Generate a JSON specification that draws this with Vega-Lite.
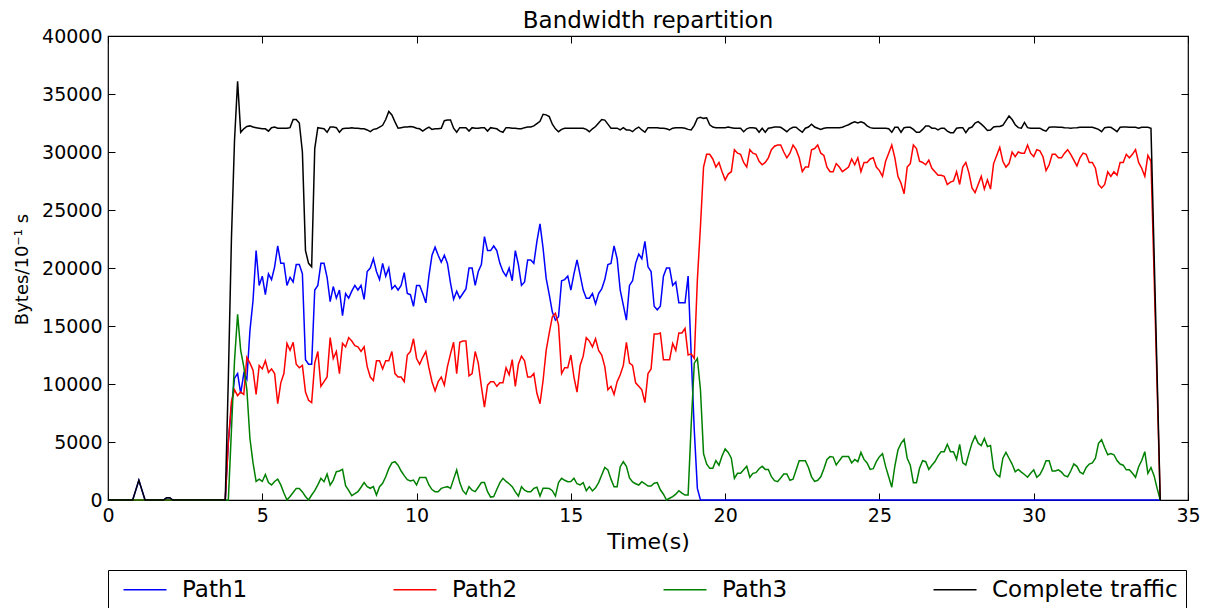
{
"$schema": "https://vega.github.io/schema/vega-lite/v6.json",
"width": 1080, "height": 464,
"autosize": {"type": "none"},
"padding": {"left": 108, "top": 36, "right": 22, "bottom": 108},
"title": {"text": "Bandwidth repartition", "fontSize": 23, "font": "DejaVu Sans", "fontWeight": "normal", "color": "black", "offset": 7, "dy": 31, "baseline": "alphabetic", "anchor": "middle"},
"config": {
  "font": "DejaVu Sans",
  "view": {"stroke": "black", "strokeWidth": 1.2},
  "axis": {"grid": false, "domain": false, "tickColor": "black", "labelColor": "black", "titleColor": "black", "labelFont": "DejaVu Sans", "titleFont": "DejaVu Sans", "labelFontSize": 19, "titleFontSize": 22, "titleFontWeight": "normal", "tickSize": -7, "tickWidth": 1, "labelPadding": 13, "labelFlush": false, "labelOverlap": false}
},
"data": {"values": [
{"t":0,"p1":0,"p2":0,"p3":0,"all":0},
{"t":0.8,"p1":0,"p2":0,"p3":0,"all":0},
{"t":0.9,"p1":850,"p2":0,"p3":0,"all":850},
{"t":1.0,"p1":1700,"p2":0,"p3":0,"all":1700},
{"t":1.1,"p1":850,"p2":0,"p3":0,"all":850},
{"t":1.2,"p1":0,"p2":0,"p3":0,"all":0},
{"t":1.8,"p1":0,"p2":0,"p3":0,"all":0},
{"t":1.9,"p1":200,"p2":0,"p3":0,"all":200},
{"t":2.0,"p1":200,"p2":0,"p3":0,"all":200},
{"t":2.1,"p1":0,"p2":0,"p3":0,"all":0},
{"t":3.8,"p1":0,"p2":0,"p3":0,"all":0},
{"t":3.9,"p1":5000,"p2":5000,"p3":0,"all":10500},
{"t":4.0,"p1":8000,"p2":8500,"p3":6000,"all":22500},
{"t":4.1,"p1":10500,"p2":9500,"p3":12000,"all":31000},
{"t":4.2,"p1":10900,"p2":9000,"p3":16000,"all":36100},
{"t":4.3,"p1":9200,"p2":9300,"p3":12900,"all":31700},
{"t":4.4,"p1":10900,"p2":9100,"p3":11500,"all":32000},
{"t":4.5,"p1":10400,"p2":12300,"p3":9500,"all":32200},
{"t":4.6,"p1":14600,"p2":11800,"p3":5300,"all":32250},
{"t":4.7,"p1":17200,"p2":11200,"p3":3200,"all":32150},
{"t":4.8,"p1":21500,"p2":9100,"p3":1600,"all":32100},
{"t":4.9,"p1":18500,"p2":11600,"p3":1800,"all":32050},
{"t":5.0,"p1":19300,"p2":11300,"p3":1600,"all":32000},
{"t":5.1,"p1":17700,"p2":12000,"p3":2200,"all":32000},
{"t":5.2,"p1":19500,"p2":11000,"p3":1500,"all":31800},
{"t":5.3,"p1":19000,"p2":11300,"p3":1300,"all":32100},
{"t":5.4,"p1":20100,"p2":10900,"p3":1600,"all":32150},
{"t":5.5,"p1":21900,"p2":8300,"p3":1800,"all":32050},
{"t":5.6,"p1":20400,"p2":10100,"p3":1300,"all":32050},
{"t":5.7,"p1":20400,"p2":10900,"p3":600,"all":32050},
{"t":5.8,"p1":18500,"p2":13500,"p3":0,"all":32050},
{"t":5.9,"p1":19200,"p2":12900,"p3":300,"all":32100},
{"t":6.0,"p1":18800,"p2":13600,"p3":650,"all":32800},
{"t":6.1,"p1":20300,"p2":11700,"p3":1000,"all":32800},
{"t":6.2,"p1":20300,"p2":11400,"p3":1000,"all":32500},
{"t":6.3,"p1":19500,"p2":11600,"p3":700,"all":30000},
{"t":6.4,"p1":12100,"p2":9300,"p3":300,"all":21500},
{"t":6.5,"p1":11700,"p2":8600,"p3":0,"all":20400},
{"t":6.6,"p1":11700,"p2":8400,"p3":430,"all":20100},
{"t":6.7,"p1":18100,"p2":11800,"p3":800,"all":30300},
{"t":6.8,"p1":18500,"p2":12800,"p3":1300,"all":32100},
{"t":6.9,"p1":20400,"p2":9800,"p3":1870,"all":32050},
{"t":7.0,"p1":20400,"p2":10200,"p3":1580,"all":32000},
{"t":7.1,"p1":19200,"p2":10600,"p3":2240,"all":31700},
{"t":7.2,"p1":17100,"p2":14000,"p3":1290,"all":32150},
{"t":7.3,"p1":18400,"p2":12200,"p3":1720,"all":32150},
{"t":7.4,"p1":17400,"p2":12800,"p3":2440,"all":32100},
{"t":7.5,"p1":18100,"p2":10900,"p3":2500,"all":31700},
{"t":7.6,"p1":15900,"p2":13500,"p3":2640,"all":32000},
{"t":7.7,"p1":17800,"p2":13200,"p3":1230,"all":32050},
{"t":7.8,"p1":17400,"p2":14000,"p3":830,"all":32050},
{"t":7.9,"p1":18000,"p2":13700,"p3":370,"all":32100},
{"t":8.0,"p1":18500,"p2":13300,"p3":540,"all":32050},
{"t":8.1,"p1":18100,"p2":13200,"p3":720,"all":32050},
{"t":8.2,"p1":18500,"p2":12800,"p3":1100,"all":32000},
{"t":8.3,"p1":17300,"p2":13200,"p3":1500,"all":32000},
{"t":8.4,"p1":19700,"p2":11500,"p3":1150,"all":31900},
{"t":8.5,"p1":20000,"p2":10600,"p3":1010,"all":31750},
{"t":8.6,"p1":20800,"p2":10300,"p3":1150,"all":31950},
{"t":8.7,"p1":19700,"p2":12000,"p3":430,"all":32000},
{"t":8.8,"p1":19000,"p2":12000,"p3":1150,"all":32150},
{"t":8.9,"p1":20400,"p2":11300,"p3":1440,"all":32300},
{"t":9.0,"p1":19300,"p2":12000,"p3":2000,"all":32800},
{"t":9.1,"p1":20000,"p2":12000,"p3":2700,"all":33500},
{"t":9.2,"p1":18200,"p2":12800,"p3":3200,"all":33200},
{"t":9.3,"p1":18500,"p2":10900,"p3":3300,"all":32600},
{"t":9.4,"p1":18100,"p2":10600,"p3":3000,"all":32050},
{"t":9.5,"p1":18500,"p2":10600,"p3":2500,"all":32100},
{"t":9.6,"p1":19600,"p2":10200,"p3":2100,"all":32150},
{"t":9.7,"p1":17800,"p2":12500,"p3":1750,"all":32150},
{"t":9.8,"p1":17700,"p2":12800,"p3":1640,"all":32200},
{"t":9.9,"p1":16700,"p2":13900,"p3":1720,"all":32150},
{"t":10.0,"p1":18500,"p2":12200,"p3":1300,"all":32050},
{"t":10.1,"p1":18500,"p2":11700,"p3":1950,"all":32000},
{"t":10.2,"p1":17800,"p2":12300,"p3":1950,"all":31800},
{"t":10.3,"p1":17000,"p2":12800,"p3":1950,"all":32000},
{"t":10.4,"p1":19300,"p2":11400,"p3":1300,"all":32150},
{"t":10.5,"p1":21100,"p2":10200,"p3":900,"all":31950},
{"t":10.6,"p1":21800,"p2":9400,"p3":720,"all":32000},
{"t":10.7,"p1":21100,"p2":10200,"p3":720,"all":32000},
{"t":10.8,"p1":20500,"p2":10600,"p3":1000,"all":32050},
{"t":10.9,"p1":21100,"p2":9900,"p3":1090,"all":32700},
{"t":11.0,"p1":20400,"p2":11500,"p3":1150,"all":32750},
{"t":11.1,"p1":18700,"p2":12600,"p3":1000,"all":32750},
{"t":11.2,"p1":17300,"p2":13600,"p3":1800,"all":32050},
{"t":11.3,"p1":18000,"p2":10900,"p3":2590,"all":31700},
{"t":11.4,"p1":17400,"p2":13600,"p3":1500,"all":32100},
{"t":11.5,"p1":17800,"p2":13700,"p3":800,"all":32100},
{"t":11.6,"p1":18200,"p2":13700,"p3":500,"all":32100},
{"t":11.7,"p1":20000,"p2":10700,"p3":1150,"all":31800},
{"t":11.8,"p1":20000,"p2":10900,"p3":850,"all":32100},
{"t":11.9,"p1":18500,"p2":12800,"p3":720,"all":32050},
{"t":12.0,"p1":19700,"p2":11800,"p3":1100,"all":32050},
{"t":12.1,"p1":20300,"p2":9800,"p3":1500,"all":32100},
{"t":12.2,"p1":22700,"p2":8000,"p3":1500,"all":32100},
{"t":12.3,"p1":21500,"p2":9900,"p3":720,"all":31800},
{"t":12.4,"p1":21500,"p2":10200,"p3":250,"all":32100},
{"t":12.5,"p1":21900,"p2":10200,"p3":300,"all":32050},
{"t":12.6,"p1":21500,"p2":9800,"p3":900,"all":32000},
{"t":12.7,"p1":20400,"p2":10100,"p3":1500,"all":31800},
{"t":12.8,"p1":19700,"p2":10100,"p3":1870,"all":31700},
{"t":12.9,"p1":19300,"p2":11400,"p3":1600,"all":32100},
{"t":13.0,"p1":20000,"p2":10800,"p3":1400,"all":32100},
{"t":13.1,"p1":18900,"p2":12100,"p3":1150,"all":32050},
{"t":13.2,"p1":21500,"p2":9800,"p3":700,"all":32050},
{"t":13.3,"p1":20300,"p2":11700,"p3":340,"all":32000},
{"t":13.4,"p1":18500,"p2":12400,"p3":1150,"all":32000},
{"t":13.5,"p1":18800,"p2":12000,"p3":850,"all":32100},
{"t":13.6,"p1":20700,"p2":10600,"p3":720,"all":32150},
{"t":13.7,"p1":20700,"p2":10600,"p3":720,"all":32150},
{"t":13.8,"p1":20400,"p2":10900,"p3":1000,"all":32250},
{"t":13.9,"p1":22300,"p2":9200,"p3":1100,"all":32450},
{"t":14.0,"p1":23800,"p2":8300,"p3":340,"all":32650},
{"t":14.1,"p1":21700,"p2":10300,"p3":1010,"all":33250},
{"t":14.2,"p1":19100,"p2":12900,"p3":1010,"all":33200},
{"t":14.3,"p1":17700,"p2":14400,"p3":1000,"all":33050},
{"t":14.4,"p1":16200,"p2":15800,"p3":800,"all":32400},
{"t":14.5,"p1":15500,"p2":16100,"p3":340,"all":32000},
{"t":14.6,"p1":15800,"p2":15100,"p3":1500,"all":31750},
{"t":14.7,"p1":18900,"p2":10900,"p3":1870,"all":31950},
{"t":14.8,"p1":19000,"p2":11400,"p3":1700,"all":32050},
{"t":14.9,"p1":19300,"p2":11400,"p3":1580,"all":32050},
{"t":15.0,"p1":18100,"p2":12500,"p3":1600,"all":32050},
{"t":15.1,"p1":19500,"p2":10600,"p3":1870,"all":32050},
{"t":15.2,"p1":20700,"p2":9300,"p3":1400,"all":32050},
{"t":15.3,"p1":19400,"p2":11600,"p3":1300,"all":32050},
{"t":15.4,"p1":18100,"p2":12400,"p3":1500,"all":32050},
{"t":15.5,"p1":17400,"p2":14000,"p3":800,"all":31950},
{"t":15.6,"p1":17400,"p2":13700,"p3":1150,"all":31750},
{"t":15.7,"p1":17800,"p2":13200,"p3":780,"all":32000},
{"t":15.8,"p1":16900,"p2":13900,"p3":1050,"all":32200},
{"t":15.9,"p1":17800,"p2":12900,"p3":1500,"all":32500},
{"t":16.0,"p1":18200,"p2":12500,"p3":2160,"all":32800},
{"t":16.1,"p1":19000,"p2":11500,"p3":2800,"all":32750},
{"t":16.2,"p1":20300,"p2":9500,"p3":2600,"all":32400},
{"t":16.3,"p1":20400,"p2":9800,"p3":1800,"all":32050},
{"t":16.4,"p1":21900,"p2":9100,"p3":1150,"all":32050},
{"t":16.5,"p1":20800,"p2":10200,"p3":1150,"all":32050},
{"t":16.6,"p1":18100,"p2":10800,"p3":2870,"all":31900},
{"t":16.7,"p1":16800,"p2":11600,"p3":3300,"all":32100},
{"t":16.8,"p1":15500,"p2":13600,"p3":2900,"all":31900},
{"t":16.9,"p1":18500,"p2":11800,"p3":1900,"all":31900},
{"t":17.0,"p1":18900,"p2":11600,"p3":1550,"all":31750},
{"t":17.1,"p1":20400,"p2":10100,"p3":1400,"all":32000},
{"t":17.2,"p1":21200,"p2":9800,"p3":1290,"all":32150},
{"t":17.3,"p1":20800,"p2":9500,"p3":1580,"all":31900},
{"t":17.4,"p1":22300,"p2":8400,"p3":1400,"all":31700},
{"t":17.5,"p1":20100,"p2":10900,"p3":1200,"all":32100},
{"t":17.6,"p1":19700,"p2":11300,"p3":1200,"all":32100},
{"t":17.7,"p1":16700,"p2":14300,"p3":1440,"all":32100},
{"t":17.8,"p1":16400,"p2":14300,"p3":1500,"all":32100},
{"t":17.9,"p1":16700,"p2":14400,"p3":880,"all":32050},
{"t":18.0,"p1":19300,"p2":12100,"p3":500,"all":32050},
{"t":18.1,"p1":20000,"p2":12100,"p3":0,"all":32000},
{"t":18.2,"p1":20000,"p2":12100,"p3":150,"all":31900},
{"t":18.3,"p1":18500,"p2":13500,"p3":290,"all":32050},
{"t":18.4,"p1":18800,"p2":12900,"p3":500,"all":32100},
{"t":18.5,"p1":17000,"p2":14400,"p3":800,"all":32100},
{"t":18.6,"p1":17000,"p2":14400,"p3":600,"all":32100},
{"t":18.7,"p1":17000,"p2":14800,"p3":430,"all":32050},
{"t":18.8,"p1":19300,"p2":12500,"p3":430,"all":31950},
{"t":18.9,"p1":12500,"p2":12600,"p3":6500,"all":31900},
{"t":19.0,"p1":6000,"p2":12200,"p3":11800,"all":32300},
{"t":19.1,"p1":1000,"p2":19000,"p3":12200,"all":32900},
{"t":19.2,"p1":0,"p2":23600,"p3":9500,"all":33000},
{"t":19.3,"p1":0,"p2":28700,"p3":4000,"all":32900},
{"t":19.4,"p1":0,"p2":29800,"p3":3100,"all":32950},
{"t":19.5,"p1":0,"p2":29800,"p3":2730,"all":32350},
{"t":19.6,"p1":0,"p2":29400,"p3":2730,"all":32150},
{"t":19.7,"p1":0,"p2":28700,"p3":3400,"all":32100},
{"t":19.8,"p1":0,"p2":29100,"p3":3000,"all":32100},
{"t":19.9,"p1":0,"p2":28300,"p3":3800,"all":32100},
{"t":20.0,"p1":0,"p2":27600,"p3":4400,"all":32100},
{"t":20.1,"p1":0,"p2":28100,"p3":4100,"all":32150},
{"t":20.2,"p1":0,"p2":28300,"p3":3600,"all":32100},
{"t":20.3,"p1":0,"p2":30200,"p3":1870,"all":32050},
{"t":20.4,"p1":0,"p2":29900,"p3":2300,"all":32050},
{"t":20.5,"p1":0,"p2":29800,"p3":2300,"all":32050},
{"t":20.6,"p1":0,"p2":29100,"p3":2600,"all":31750},
{"t":20.7,"p1":0,"p2":28700,"p3":2900,"all":32000},
{"t":20.8,"p1":0,"p2":30200,"p3":1960,"all":32100},
{"t":20.9,"p1":0,"p2":29900,"p3":2300,"all":32100},
{"t":21.0,"p1":0,"p2":29800,"p3":2360,"all":32050},
{"t":21.1,"p1":0,"p2":29200,"p3":2700,"all":31700},
{"t":21.2,"p1":0,"p2":28900,"p3":2900,"all":32050},
{"t":21.3,"p1":0,"p2":29100,"p3":2640,"all":31700},
{"t":21.4,"p1":0,"p2":29500,"p3":2640,"all":32050},
{"t":21.5,"p1":0,"p2":30200,"p3":2010,"all":32100},
{"t":21.6,"p1":0,"p2":30500,"p3":1670,"all":32150},
{"t":21.7,"p1":0,"p2":30600,"p3":1580,"all":32150},
{"t":21.8,"p1":0,"p2":30600,"p3":1900,"all":32130},
{"t":21.9,"p1":0,"p2":30000,"p3":2240,"all":31950},
{"t":22.0,"p1":0,"p2":29500,"p3":2240,"all":31750},
{"t":22.1,"p1":0,"p2":29900,"p3":1700,"all":32000},
{"t":22.2,"p1":0,"p2":30600,"p3":1800,"all":32130},
{"t":22.3,"p1":0,"p2":30200,"p3":2590,"all":32130},
{"t":22.4,"p1":0,"p2":29500,"p3":3390,"all":31900},
{"t":22.5,"p1":0,"p2":28300,"p3":3390,"all":31700},
{"t":22.6,"p1":0,"p2":28700,"p3":3390,"all":32050},
{"t":22.7,"p1":0,"p2":28700,"p3":2800,"all":32150},
{"t":22.8,"p1":0,"p2":30200,"p3":2000,"all":32400},
{"t":22.9,"p1":0,"p2":30300,"p3":1600,"all":32150},
{"t":23.0,"p1":0,"p2":30600,"p3":1700,"all":32050},
{"t":23.1,"p1":0,"p2":29900,"p3":2000,"all":31950},
{"t":23.2,"p1":0,"p2":29700,"p3":2700,"all":32050},
{"t":23.3,"p1":0,"p2":28700,"p3":3500,"all":32100},
{"t":23.4,"p1":0,"p2":28300,"p3":3740,"all":32100},
{"t":23.5,"p1":0,"p2":28300,"p3":3700,"all":32100},
{"t":23.6,"p1":0,"p2":29000,"p3":3020,"all":32100},
{"t":23.7,"p1":0,"p2":28700,"p3":3390,"all":32100},
{"t":23.8,"p1":0,"p2":28300,"p3":3740,"all":32130},
{"t":23.9,"p1":0,"p2":28500,"p3":3740,"all":32250},
{"t":24.0,"p1":0,"p2":28700,"p3":3740,"all":32350},
{"t":24.1,"p1":0,"p2":29400,"p3":3200,"all":32500},
{"t":24.2,"p1":0,"p2":28900,"p3":3500,"all":32600},
{"t":24.3,"p1":0,"p2":29500,"p3":3300,"all":32500},
{"t":24.4,"p1":0,"p2":28300,"p3":4100,"all":32600},
{"t":24.5,"p1":0,"p2":29100,"p3":3500,"all":32500},
{"t":24.6,"p1":0,"p2":29100,"p3":3200,"all":32250},
{"t":24.7,"p1":0,"p2":29400,"p3":2640,"all":32100},
{"t":24.8,"p1":0,"p2":29500,"p3":2700,"all":32050},
{"t":24.9,"p1":0,"p2":28700,"p3":3310,"all":32050},
{"t":25.0,"p1":0,"p2":28400,"p3":3740,"all":32050},
{"t":25.1,"p1":0,"p2":27900,"p3":4000,"all":32050},
{"t":25.2,"p1":0,"p2":29200,"p3":2900,"all":32050},
{"t":25.3,"p1":0,"p2":29900,"p3":2010,"all":32000},
{"t":25.4,"p1":0,"p2":30600,"p3":1100,"all":31700},
{"t":25.5,"p1":0,"p2":29500,"p3":2930,"all":32130},
{"t":25.6,"p1":0,"p2":27900,"p3":4310,"all":32130},
{"t":25.7,"p1":0,"p2":27300,"p3":4880,"all":31700},
{"t":25.8,"p1":0,"p2":26400,"p3":5230,"all":32100},
{"t":25.9,"p1":0,"p2":28700,"p3":3600,"all":32130},
{"t":26.0,"p1":0,"p2":29000,"p3":3000,"all":32130},
{"t":26.1,"p1":0,"p2":30600,"p3":1490,"all":31950},
{"t":26.2,"p1":0,"p2":30300,"p3":1490,"all":31700},
{"t":26.3,"p1":0,"p2":29200,"p3":2730,"all":31700},
{"t":26.4,"p1":0,"p2":29100,"p3":3390,"all":31950},
{"t":26.5,"p1":0,"p2":28900,"p3":3300,"all":32250},
{"t":26.6,"p1":0,"p2":29300,"p3":2640,"all":32250},
{"t":26.7,"p1":0,"p2":28600,"p3":3000,"all":32050},
{"t":26.8,"p1":0,"p2":28300,"p3":3310,"all":32050},
{"t":26.9,"p1":0,"p2":28000,"p3":3800,"all":31900},
{"t":27.0,"p1":0,"p2":28000,"p3":4170,"all":32050},
{"t":27.1,"p1":0,"p2":27900,"p3":4170,"all":32050},
{"t":27.2,"p1":0,"p2":27200,"p3":4800,"all":31800},
{"t":27.3,"p1":0,"p2":27400,"p3":4170,"all":31670},
{"t":27.4,"p1":0,"p2":27500,"p3":4170,"all":31670},
{"t":27.5,"p1":0,"p2":28300,"p3":3500,"all":32050},
{"t":27.6,"p1":0,"p2":27200,"p3":4800,"all":32100},
{"t":27.7,"p1":0,"p2":28700,"p3":3200,"all":32100},
{"t":27.8,"p1":0,"p2":29100,"p3":3020,"all":31670},
{"t":27.9,"p1":0,"p2":28200,"p3":4000,"all":32050},
{"t":28.0,"p1":0,"p2":26900,"p3":4900,"all":32150},
{"t":28.1,"p1":0,"p2":26500,"p3":5500,"all":32500},
{"t":28.2,"p1":0,"p2":27200,"p3":4900,"all":32620},
{"t":28.3,"p1":0,"p2":27900,"p3":4700,"all":32400},
{"t":28.4,"p1":0,"p2":26800,"p3":5300,"all":32150},
{"t":28.5,"p1":0,"p2":27600,"p3":4600,"all":31850},
{"t":28.6,"p1":0,"p2":26800,"p3":4700,"all":31900},
{"t":28.7,"p1":0,"p2":29000,"p3":2700,"all":32150},
{"t":28.8,"p1":0,"p2":29700,"p3":2200,"all":32200},
{"t":28.9,"p1":0,"p2":30400,"p3":2000,"all":32200},
{"t":29.0,"p1":0,"p2":29200,"p3":3600,"all":32300},
{"t":29.1,"p1":0,"p2":28700,"p3":4100,"all":32700},
{"t":29.2,"p1":0,"p2":29000,"p3":3600,"all":33100},
{"t":29.3,"p1":0,"p2":30000,"p3":3100,"all":32800},
{"t":29.4,"p1":0,"p2":29600,"p3":2440,"all":32350},
{"t":29.5,"p1":0,"p2":30000,"p3":2640,"all":32100},
{"t":29.6,"p1":0,"p2":29900,"p3":2400,"all":32050},
{"t":29.7,"p1":0,"p2":29900,"p3":2200,"all":32550},
{"t":29.8,"p1":0,"p2":30600,"p3":1960,"all":32100},
{"t":29.9,"p1":0,"p2":29900,"p3":2300,"all":32050},
{"t":30.0,"p1":0,"p2":29600,"p3":2600,"all":32050},
{"t":30.1,"p1":0,"p2":30200,"p3":1960,"all":32050},
{"t":30.2,"p1":0,"p2":30100,"p3":2200,"all":32050},
{"t":30.3,"p1":0,"p2":29600,"p3":2700,"all":31900},
{"t":30.4,"p1":0,"p2":28400,"p3":3390,"all":31800},
{"t":30.5,"p1":0,"p2":28900,"p3":3390,"all":32130},
{"t":30.6,"p1":0,"p2":29800,"p3":2500,"all":32150},
{"t":30.7,"p1":0,"p2":29800,"p3":2500,"all":32150},
{"t":30.8,"p1":0,"p2":29500,"p3":2600,"all":32130},
{"t":30.9,"p1":0,"p2":29500,"p3":2400,"all":32130},
{"t":31.0,"p1":0,"p2":29900,"p3":2100,"all":32100},
{"t":31.1,"p1":0,"p2":30200,"p3":2000,"all":32080},
{"t":31.2,"p1":0,"p2":29800,"p3":2500,"all":32050},
{"t":31.3,"p1":0,"p2":29300,"p3":3100,"all":32080},
{"t":31.4,"p1":0,"p2":28800,"p3":2900,"all":32100},
{"t":31.5,"p1":0,"p2":29500,"p3":2400,"all":32130},
{"t":31.6,"p1":0,"p2":29900,"p3":2240,"all":32130},
{"t":31.7,"p1":0,"p2":29800,"p3":2800,"all":32130},
{"t":31.8,"p1":0,"p2":29100,"p3":3100,"all":32130},
{"t":31.9,"p1":0,"p2":29100,"p3":3200,"all":32130},
{"t":32.0,"p1":0,"p2":28600,"p3":3600,"all":32050},
{"t":32.1,"p1":0,"p2":27200,"p3":4880,"all":31950},
{"t":32.2,"p1":0,"p2":26900,"p3":5200,"all":31750},
{"t":32.3,"p1":0,"p2":27200,"p3":4500,"all":32100},
{"t":32.4,"p1":0,"p2":28300,"p3":3900,"all":32130},
{"t":32.5,"p1":0,"p2":27900,"p3":4000,"all":32130},
{"t":32.6,"p1":0,"p2":28300,"p3":3900,"all":31950},
{"t":32.7,"p1":0,"p2":28000,"p3":3400,"all":31750},
{"t":32.8,"p1":0,"p2":29100,"p3":3100,"all":32130},
{"t":32.9,"p1":0,"p2":29100,"p3":3000,"all":32150},
{"t":33.0,"p1":0,"p2":29800,"p3":2600,"all":32150},
{"t":33.1,"p1":0,"p2":29500,"p3":2600,"all":32130},
{"t":33.2,"p1":0,"p2":29800,"p3":2300,"all":32130},
{"t":33.3,"p1":0,"p2":30200,"p3":1960,"all":32130},
{"t":33.4,"p1":0,"p2":29100,"p3":2870,"all":32050},
{"t":33.5,"p1":0,"p2":28600,"p3":3400,"all":32130},
{"t":33.6,"p1":0,"p2":27900,"p3":4170,"all":32130},
{"t":33.7,"p1":0,"p2":29700,"p3":2300,"all":32130},
{"t":33.8,"p1":0,"p2":29200,"p3":2800,"all":32050},
{"t":33.9,"p1":0,"p2":19500,"p3":2100,"all":21400},
{"t":34.0,"p1":0,"p2":9700,"p3":1000,"all":10700},
{"t":34.1,"p1":0,"p2":0,"p3":0,"all":0}
]},
"layer": [
  {
    "encoding": {
      "x": {"field": "t", "type": "quantitative", "scale": {"domain": [0, 35], "nice": false},
            "axis": {"values": [0,5,10,15,20,25,30,35], "format": "d", "title": "Time(s)", "titleX": 540, "titleY": 48, "titleBaseline": "alphabetic", "titleAlign": "center", "titleAnchor": null}}
    },
    "layer": [
      {"mark": {"type": "line", "strokeWidth": 1.5},
       "encoding": {
         "y": {"field": "p1", "type": "quantitative", "scale": {"domain": [0, 40000], "nice": false}, "title": "Bytes/10⁻¹ s",
               "axis": {"values": [0,5000,10000,15000,20000,25000,30000,35000,40000], "format": "d", "titleFontSize": 18, "titleX": -86, "titleY": 233, "titleAngle": -90, "titleBaseline": "middle", "titleAlign": "center", "titleAnchor": null}},
         "color": {"datum": "Path1", "type": "nominal",
                   "scale": {"domain": ["Path1", "Path2", "Path3", "Complete traffic"], "range": ["#0000ff", "#ff0000", "#008000", "#000000"]},
                   "legend": {"orient": "none", "legendX": 0, "legendY": 534, "direction": "horizontal", "columns": 4, "gridAlign": "all", "title": null,
                              "symbolType": "M-0.4,0H3.9", "symbolSize": 400, "symbolStrokeWidth": 1.5, "labelFontSize": 23, "labelFont": "DejaVu Sans", "labelColor": "black",
                              "labelOffset": 43, "labelLimit": 400, "columnPadding": 18, "padding": 8, "strokeColor": "black", "fillColor": "white", "cornerRadius": 0}}
       }},
      {"mark": {"type": "line", "strokeWidth": 1.5},
       "encoding": {
         "y": {"field": "p2", "type": "quantitative", "title": "Bytes/10⁻¹ s"},
         "color": {"datum": "Path2", "type": "nominal"}
       }},
      {"mark": {"type": "line", "strokeWidth": 1.5},
       "encoding": {
         "y": {"field": "p3", "type": "quantitative", "title": "Bytes/10⁻¹ s"},
         "color": {"datum": "Path3", "type": "nominal"}
       }},
      {"mark": {"type": "line", "strokeWidth": 1.5},
       "encoding": {
         "y": {"field": "all", "type": "quantitative", "title": "Bytes/10⁻¹ s"},
         "color": {"datum": "Complete traffic", "type": "nominal"}
       }}
    ]
  },
  {
    "mark": {"type": "line", "strokeOpacity": 0},
    "encoding": {
      "x": {"field": "t", "type": "quantitative", "axis": {"orient": "top", "labels": false, "title": null, "values": [0,5,10,15,20,25,30,35]}},
      "y": {"field": "all", "type": "quantitative", "axis": {"orient": "right", "labels": false, "title": null, "values": [0,5000,10000,15000,20000,25000,30000,35000,40000]}}
    }
  }
],
"resolve": {"axis": {"x": "independent", "y": "independent"}}
}
